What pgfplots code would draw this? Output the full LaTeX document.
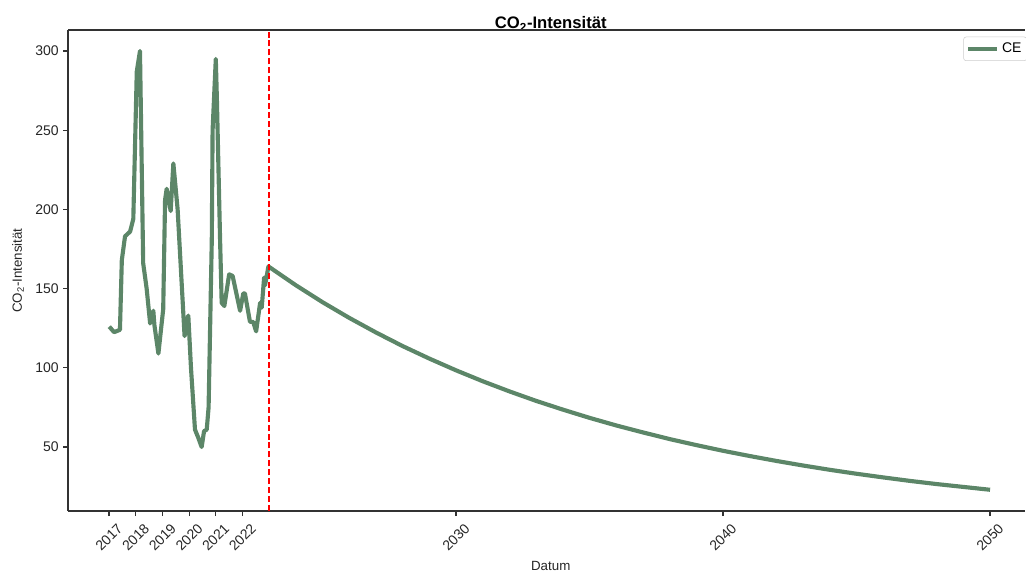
\documentclass[border=0pt]{standalone}
\usepackage{pgfplots}
\pgfplotsset{compat=1.18}
\usepackage{fontspec}
\setmainfont{Liberation Sans}
\definecolor{ce}{RGB}{92,134,104}
\definecolor{spine}{RGB}{50,50,50}
\begin{document}
\begin{tikzpicture}
\useasboundingbox (0,0) rectangle (769.5pt,429pt);
\begin{axis}[
  at={(51pt,45.75pt)}, anchor=south west,
  scale only axis, width=718.1pt, height=360.75pt,
  xmin=2015.464, xmax=2051.326, ymin=9.6, ymax=313.26,
  axis x line*=bottom, axis y line*=left,
  axis line style={spine, line width=0.9pt, -},
  tick style={spine, line width=0.9pt},
  tick align=outside, major tick length=3.75pt,
  xtick={2017,2018,2019,2020,2021,2022,2030,2040,2050},
  ytick={50,100,150,200,250,300},
  /pgf/number format/assume math mode=true,
  /pgf/number format/1000 sep={},
  ticklabel style={font=\fontsize{10.5}{12}\selectfont, text=black!85},
  xticklabel style={rotate=45, anchor=center, inner sep=0pt, xshift=-11.4pt, yshift=-11.4pt},
  yticklabel style={anchor=east, inner sep=0pt, xshift=-3pt},
  title={\textbf{CO\textsubscript{2}-Intensität}},
  title style={at={(axis description cs:0.5042,1)}, anchor=base, yshift=-5pt, font=\fontsize{12.5}{14}\selectfont, inner sep=0pt},
  xlabel={Datum},
  xlabel style={at={(axis description cs:0.5042,0)}, anchor=base, yshift=-44.25pt, font=\fontsize{10}{12}\selectfont, inner sep=0pt, text=black!85},
  ylabel={CO\textsubscript{2}-Intensität},
  ylabel style={at={(axis description cs:0,0.5)}, anchor=center, yshift=37.5pt, font=\fontsize{10}{12}\selectfont, inner sep=0pt, text=black!85},
  legend style={at={(axis description cs:1,1)}, anchor=north east, xshift=1.2pt, yshift=-5pt,
    draw=black!20, rounded corners=2pt, fill=white, inner xsep=2pt, inner ysep=2.5pt,
    font=\fontsize{10.5}{12}\selectfont, cells={anchor=west}},
  legend image code/.code={\draw[#1] (0pt,0pt) -- (21.75pt,0pt);},
  extra description/.code={\draw[spine, line width=0.9pt] (rel axis cs:0,1) -- (rel axis cs:1,1);},
  clip=false,
]
\addplot[ce, line width=3.1pt, line join=round] table[row sep=\\] {
x y\\
2017.01 126\\
2017.19 122.5\\
2017.41 124\\
2017.48 168\\
2017.60 183\\
2017.79 186\\
2017.91 194\\
2018.04 287\\
2018.16 300\\
2018.28 166\\
2018.41 150\\
2018.54 128\\
2018.66 136\\
2018.70 127\\
2018.85 109\\
2019.03 137\\
2019.10 206\\
2019.16 213\\
2019.31 199\\
2019.41 229\\
2019.57 200\\
2019.83 120\\
2019.97 133\\
2020.07 100\\
2020.22 61\\
2020.34 56\\
2020.47 50\\
2020.56 60\\
2020.66 61\\
2020.73 75\\
2020.85 181\\
2020.88 250\\
2021.00 295\\
2021.04 270\\
2021.16 181\\
2021.22 141\\
2021.32 139\\
2021.50 159\\
2021.63 158\\
2021.91 136\\
2022.03 147\\
2022.09 147\\
2022.28 129\\
2022.40 129\\
2022.51 123\\
2022.66 141\\
2022.72 138\\
2022.81 157\\
2022.84 152\\
2022.91 158\\
2022.97 164\\
2024 152.1\\
2025 141.4\\
2026 131.5\\
2027 122.3\\
2028 113.7\\
2029 105.8\\
2030 98.4\\
2031 91.5\\
2032 85.1\\
2033 79.1\\
2034 73.6\\
2035 68.4\\
2036 63.6\\
2037 59.2\\
2038 55.0\\
2039 51.2\\
2040 47.6\\
2041 44.3\\
2042 41.2\\
2043 38.3\\
2044 35.6\\
2045 33.1\\
2046 30.8\\
2047 28.6\\
2048 26.6\\
2049 24.8\\
2050 23.0\\
};
\addlegendentry{CE}
\addplot[red, line width=1.1pt, dash pattern=on 4.5pt off 2.2pt, forget plot] coordinates {(2023.0,9.6) (2023.0,313.26)};
\end{axis}
\end{tikzpicture}
\end{document}
